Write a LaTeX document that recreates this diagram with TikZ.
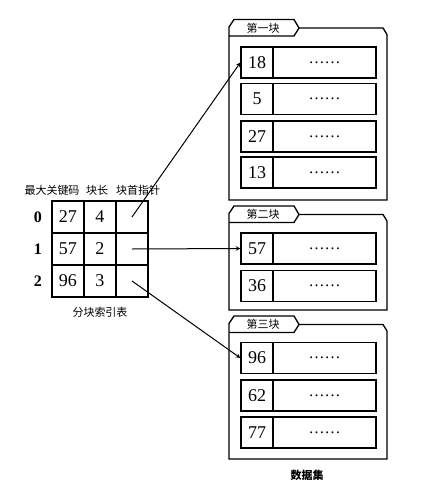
\documentclass[tikz,border=0pt]{standalone}
\usepackage{fontspec}
\setmainfont{Liberation Serif}
\newfontfamily\cjk{Noto Sans CJK SC}
\usepackage{tikz}
\usetikzlibrary{arrows}

\tikzset{
  cell/.style={draw, line width=1.3pt, minimum width=32pt, minimum height=32pt, inner sep=0pt, font=\fontsize{18}{18}\selectfont},
  keybox/.style={draw, line width=1.3pt, minimum width=32pt, minimum height=31pt, inner sep=0pt, font=\fontsize{18}{18}\selectfont},
  databox/.style={draw, line width=1.3pt, minimum width=103pt, minimum height=31pt, inner sep=0pt, font=\fontsize{16}{16}\selectfont},
  cntext/.style={inner sep=0pt, font=\cjk\fontsize{11}{11}\selectfont},
  rowno/.style={inner sep=0pt, font=\bfseries\fontsize{16}{16}\selectfont},
  ptr/.style={-stealth, line width=1pt},
}

% frame of one block: name, tab top, bottom, title
\newcommand{\blockframe}[4]{%
  \draw[line width=1.3pt] (229,#2+7.5) -- (234,#2) -- (294,#2) -- (299,#2+8.5) -- (383,#2+8.5) -- (387,#2+15) -- (387,#3) -- (229,#3) -- cycle;
  \draw[line width=1.3pt] (229,#2+16.5) -- (294,#2+16.5) -- (299,#2+8.5);
  \node[cntext] (#1) at (263,#2+8.5) {#4};
}

\begin{document}
\begin{tikzpicture}[x=1pt,y=-1pt]
\useasboundingbox (0,0) rectangle (432,491);

% index table
\node[cntext] (h1) at (52,190) {最大关键码};
\node[cntext] (h2) at (97,190) {块长};
\node[cntext] (h3) at (138,190) {块首指针};
\node[rowno] (n0) at (38,217) {0};
\node[rowno] (n1) at (38,249) {1};
\node[rowno] (n2) at (38,281) {2};
\node[cell] (k0) at (68,217) {27};
\node[cell] (l0) at (100,217) {4};
\node[cell] (p0) at (132,217) {};
\node[cell] (k1) at (68,249) {57};
\node[cell] (l1) at (100,249) {2};
\node[cell] (p1) at (132,249) {};
\node[cell] (k2) at (68,281) {96};
\node[cell] (l2) at (100,281) {3};
\node[cell] (p2) at (132,281) {};
\node[cntext] (cap) at (100,312) {分块索引表};

% block 1
\blockframe{t1}{19.5}{200}{第一块}
\node[keybox] (a1) at (257,62.5) {18};
\node[databox] (a1d) at (324.5,62.5) {\ldots\ldots};
\node[keybox] (a2) at (257,99) {5};
\node[databox] (a2d) at (324.5,99) {\ldots\ldots};
\node[keybox] (a3) at (257,136.5) {27};
\node[databox] (a3d) at (324.5,136.5) {\ldots\ldots};
\node[keybox] (a4) at (257,172.5) {13};
\node[databox] (a4d) at (324.5,172.5) {\ldots\ldots};

% block 2
\blockframe{t2}{206}{310}{第二块}
\node[keybox] (b1) at (257,248.5) {57};
\node[databox] (b1d) at (324.5,248.5) {\ldots\ldots};
\node[keybox] (b2) at (257,286) {36};
\node[databox] (b2d) at (324.5,286) {\ldots\ldots};

% block 3
\blockframe{t3}{316}{459}{第三块}
\node[keybox] (c1) at (257,358) {96};
\node[databox] (c1d) at (324.5,358) {\ldots\ldots};
\node[keybox] (c2) at (257,395.5) {62};
\node[databox] (c2d) at (324.5,395.5) {\ldots\ldots};
\node[keybox] (c3) at (257,432.5) {77};
\node[databox] (c3d) at (324.5,432.5) {\ldots\ldots};
\node[cntext, font=\cjk\bfseries\fontsize{11}{11}\selectfont] (set) at (307,475) {数据集};

% pointers
\draw[ptr] (p0.center) -- (a1.west);
\draw[ptr] (p1.center) -- (b1.west);
\draw[ptr] (p2.center) -- (c1.west);
\end{tikzpicture}
\end{document}
